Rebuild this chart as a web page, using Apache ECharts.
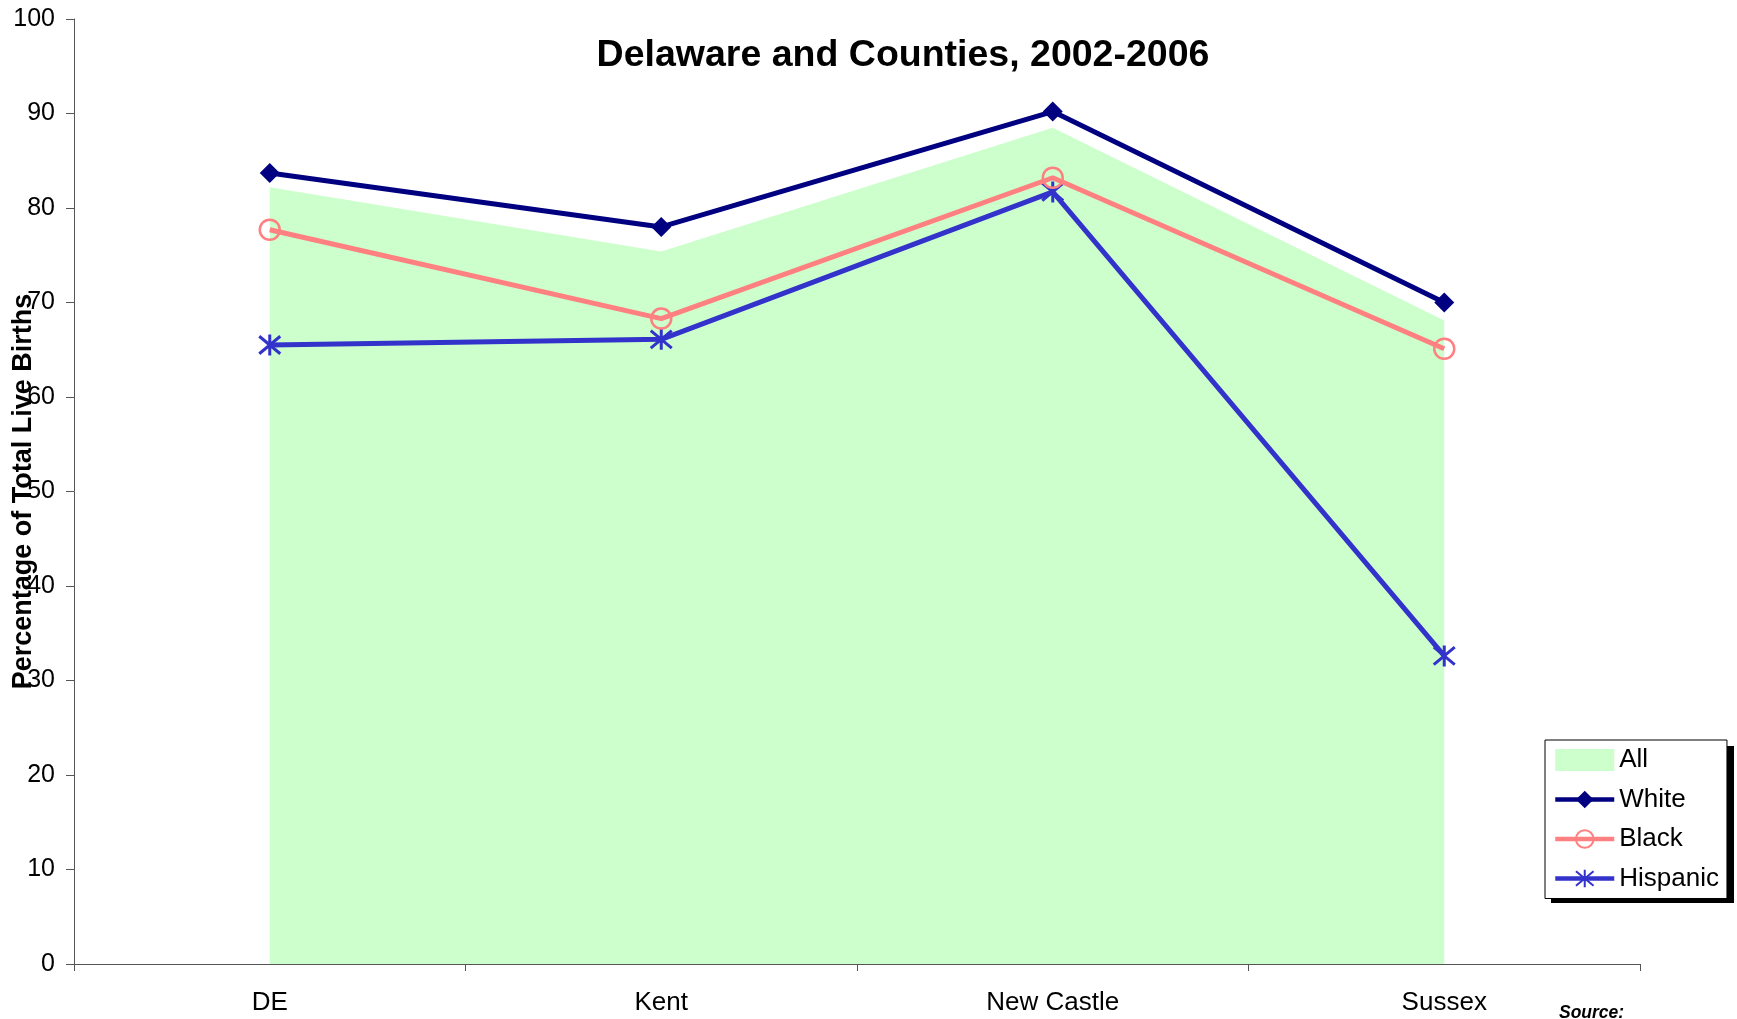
<!DOCTYPE html>
<html><head><meta charset="utf-8">
<script src="https://cdn.jsdelivr.net/npm/echarts@6/dist/echarts.min.js"></script>
<style>html,body{margin:0;padding:0;background:#fff}#c{width:1737px;height:1019px}</style>
</head><body><div id="c"></div>
<script>
const categories = ['DE', 'Kent', 'New Castle', 'Sussex'];
const allValues = [82.2, 75.4, 88.5, 68.1];
const whiteValues = [83.7, 78.0, 90.2, 70.0];
const blackValues = [77.7, 68.3, 83.2, 65.1];
const hispanicValues = [65.5, 66.1, 81.7, 32.6];
const yTicks = { min: 0, max: 100, interval: 10 };

const asterisk = 'path://M0,0L10,10M10,0L0,10M5,-1L5,11';
const chart = echarts.init(document.getElementById('c'));
chart.setOption({
  animation: false,
  backgroundColor: '#fff',
  title: {
    text: 'Delaware and Counties, 2002-2006',
    left: 898, top: 32, textAlign: 'center',
    textStyle: { fontFamily: 'Liberation Sans', fontWeight: 'bold', fontSize: 37.5, color: '#000' }
  },
  legend: {
    orient: 'vertical', left: 1545, top: 740,
    width: 183, height: 157, padding: [7, 8, 7, 8],
    itemWidth: 59, itemHeight: 22, itemGap: 13.5,
    backgroundColor: '#fff', borderColor: '#000', borderWidth: 1, z: 10,
    lineStyle: { width: 4.5 },
    textStyle: { fontFamily: 'Liberation Sans', fontSize: 26, color: '#000' },
    data: [
      { name: 'All', icon: 'rect', itemStyle: { color: '#CCFFCC' } },
      { name: 'White' }, { name: 'Black' }, { name: 'Hispanic' }
    ]
  },
  grid: { left: 74, right: 97, top: 19, bottom: 55, containLabel: false, outerBoundsMode: 'none' },
  xAxis: {
    type: 'category', data: categories, boundaryGap: true,
    axisLine: { lineStyle: { color: '#555', width: 1 } },
    axisTick: { show: true, length: 7, lineStyle: { color: '#555' } },
    axisLabel: { margin: 26, fontFamily: 'Liberation Sans', fontSize: 26, color: '#000' }
  },
  yAxis: {
    type: 'value', min: yTicks.min, max: yTicks.max, interval: yTicks.interval,
    name: 'Percentage of Total Live Births', nameLocation: 'middle', nameRotate: 90, nameGap: 37,
    nameMoveOverlap: false,
    nameTextStyle: { fontFamily: 'Liberation Sans', fontWeight: 'bold', fontSize: 27, color: '#000' },
    axisLine: { show: true, lineStyle: { color: '#555', width: 1 } },
    axisTick: { show: true, inside: false, length: 8, lineStyle: { color: '#555' } },
    splitLine: { show: false },
    axisLabel: { margin: 19, fontFamily: 'Liberation Sans', fontSize: 25, color: '#000' }
  },
  series: [
    { name: 'All', type: 'line', data: allValues, symbol: 'none', z: 1,
      lineStyle: { width: 0, color: '#CCFFCC' }, itemStyle: { color: '#CCFFCC' },
      areaStyle: { color: '#CCFFCC', opacity: 1 } },
    { name: 'White', type: 'line', data: whiteValues, symbol: 'diamond', symbolSize: 20, z: 4,
      lineStyle: { width: 5, color: '#000080' }, itemStyle: { color: '#000080' } },
    { name: 'Black', type: 'line', data: blackValues, symbol: 'circle', symbolSize: 20, z: 3,
      lineStyle: { width: 5, color: '#FF8080' }, itemStyle: { color: 'none', borderWidth: 2.5, borderColor: '#FF8080' } },
    { name: 'Hispanic', type: 'line', data: hispanicValues, symbol: asterisk, symbolSize: 21, z: 2,
      lineStyle: { width: 5, color: '#3333CC' }, itemStyle: { color: 'none', borderColor: '#3333CC', borderWidth: 3 } }
  ],
  graphic: [
    { type: 'rect', z: 0, shape: { x: 1551, y: 746, width: 183, height: 157 }, style: { fill: '#000' } },
    { type: 'text', left: 1559, top: 1004,
      style: { text: 'Source:', fontFamily: 'Liberation Sans', fontWeight: 'bold', fontStyle: 'italic', fontSize: 17.5, fill: '#000' } }
  ]
});
</script></body></html>
